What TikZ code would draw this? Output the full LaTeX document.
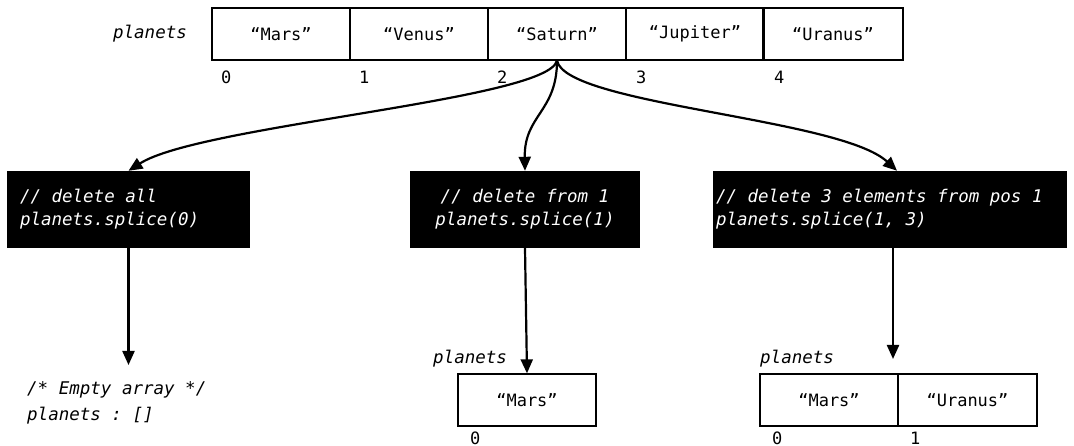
\documentclass[tikz,border=0pt]{standalone}
\usepackage{fontspec}
\setmonofont{DejaVu Sans Mono}[ItalicFont={DejaVu Sans Mono Oblique}]
\usetikzlibrary{arrows.meta,calc}
% one line of code, flush left or centred in a fixed width
\newcommand{\codeL}[2]{\hbox to #1{#2\hfil}}
\newcommand{\codeC}[2]{\hbox to #1{\hfil#2\hfil}}
\begin{document}
\begin{tikzpicture}[x=1pt,y=-1pt,
  every node/.style={font=\ttfamily\fontsize{17}{23}\selectfont},
  cell/.style={draw, line width=1.3pt, minimum width=138pt, minimum height=52pt, inner sep=0pt},
  idx/.style={anchor=base west, inner sep=0pt},
  varname/.style={font=\ttfamily\itshape\fontsize{17.5}{23}\selectfont, inner sep=0pt},
  code/.style={fill=black, text=white, font=\ttfamily\itshape\fontsize{17.5}{23}\selectfont,
               minimum height=77pt, inner sep=0pt},
  link/.style={line width=2.2pt, -{Triangle[length=14pt,width=12pt]}}
]
\useasboundingbox (0,0) rectangle (1074,446);

% original array
\node[varname] (arr) at (150,34) {planets};
\node[cell] (c0) at (281,34) {“Mars”};
\node[cell] (c1) at (419,34) {“Venus”};
\node[cell] (c2) at (557,34) {“Saturn”};
\node[cell] (c3) at (695,34) {“Jupiter”};
\node[cell, minimum width=140pt] (c4) at (833,34) {“Uranus”};
\node[idx] (i0) at (221,84) {0};
\node[idx] (i1) at (359,84) {1};
\node[idx] (i2) at (497,84) {2};
\node[idx] (i3) at (636,84) {3};
\node[idx] (i4) at (774,84) {4};

% splice calls
\node[code, minimum width=243pt] (b0) at (128.5,209.5)
  {\vbox{\codeL{217pt}{// delete all}\codeL{217pt}{planets.splice(0)}}};
\node[code, minimum width=230pt] (b1) at (525,209.5)
  {\vbox{\codeC{214pt}{// delete from 1}\codeC{214pt}{planets.splice(1)}}};
\node[code, minimum width=354pt] (b2) at (890,209.5)
  {\vbox{\codeL{348pt}{// delete 3 elements from pos 1}\codeL{348pt}{planets.splice(1, 3)}}};

% results
\node[varname, anchor=north west, align=left, font=\ttfamily\itshape\fontsize{17.5}{26}\selectfont] (empty) at (27,381)
  {/* Empty array */\\planets : []};

\node[varname, anchor=base west] (v1) at (433,363) {planets};
\node[cell] (m0) at (527,400) {“Mars”};
\node[idx] (j0) at (470,444) {0};

\node[varname, anchor=base west] (v2) at (760,363) {planets};
\node[cell] (r0) at (829,400) {“Mars”};
\node[cell, minimum width=139pt] (r1) at (967.5,400) {“Uranus”};
\node[idx] (k0) at (772,444) {0};
\node[idx] (k1) at (910,444) {1};

% connectors
\coordinate (e0) at (128.5,365);
\coordinate (e2) at (893,359);
\draw[link] (c2.south) .. controls (548,100) and (200,125) .. (b0.north);
\draw[link] (c2.south) .. controls (557,112) and (524,115) .. (b1.north);
\draw[link] (c2.south) .. controls (566,105) and (840,118) .. ([xshift=7pt]b2.north);
\draw[link] (b0.south) -- (e0);
\draw[link] (b1.south) -- (m0.north);
\draw[link] ([xshift=3pt]b2.south) -- (e2);
\end{tikzpicture}
\end{document}
